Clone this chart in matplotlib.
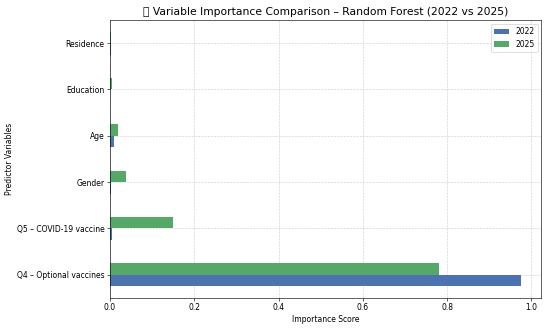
import matplotlib
matplotlib.use("Agg")
import matplotlib.pyplot as plt
import numpy as np

# predictors, bottom to top
predictors = ["Q4 – Optional vaccines", "Q5 – COVID-19 vaccine", "Gender",
              "Age", "Education", "Residence"]
imp_2022 = [0.975, 0.004, 0.002, 0.009, 0.001, 0.002]
imp_2025 = [0.780, 0.150, 0.039, 0.019, 0.005, 0.003]

fig, ax = plt.subplots(figsize=(10, 5.964), dpi=55)

y = np.arange(len(predictors))
h = 0.25
ax.barh(y - h/2, imp_2022, height=h, color="#4C72B0", label="2022")
ax.barh(y + h/2, imp_2025, height=h, color="#55A868", label="2025")

ax.set_yticks(y)
ax.set_yticklabels(predictors)
ax.set_ylim(-0.5, len(predictors) - 0.5)
ax.set_xlim(0, 1.024)

ax.set_title("📊 Variable Importance Comparison – Random Forest (2022 vs 2025)",
             fontsize=14)
ax.set_xlabel("Importance Score")
ax.set_ylabel("Predictor Variables")
ax.grid(True, linestyle="--", alpha=0.6)
ax.set_axisbelow(True)
ax.legend(loc="upper right")

fig.subplots_adjust(left=110/550, right=541.5/550, top=1 - 20/328, bottom=30/328)
fig.savefig("out.png")
